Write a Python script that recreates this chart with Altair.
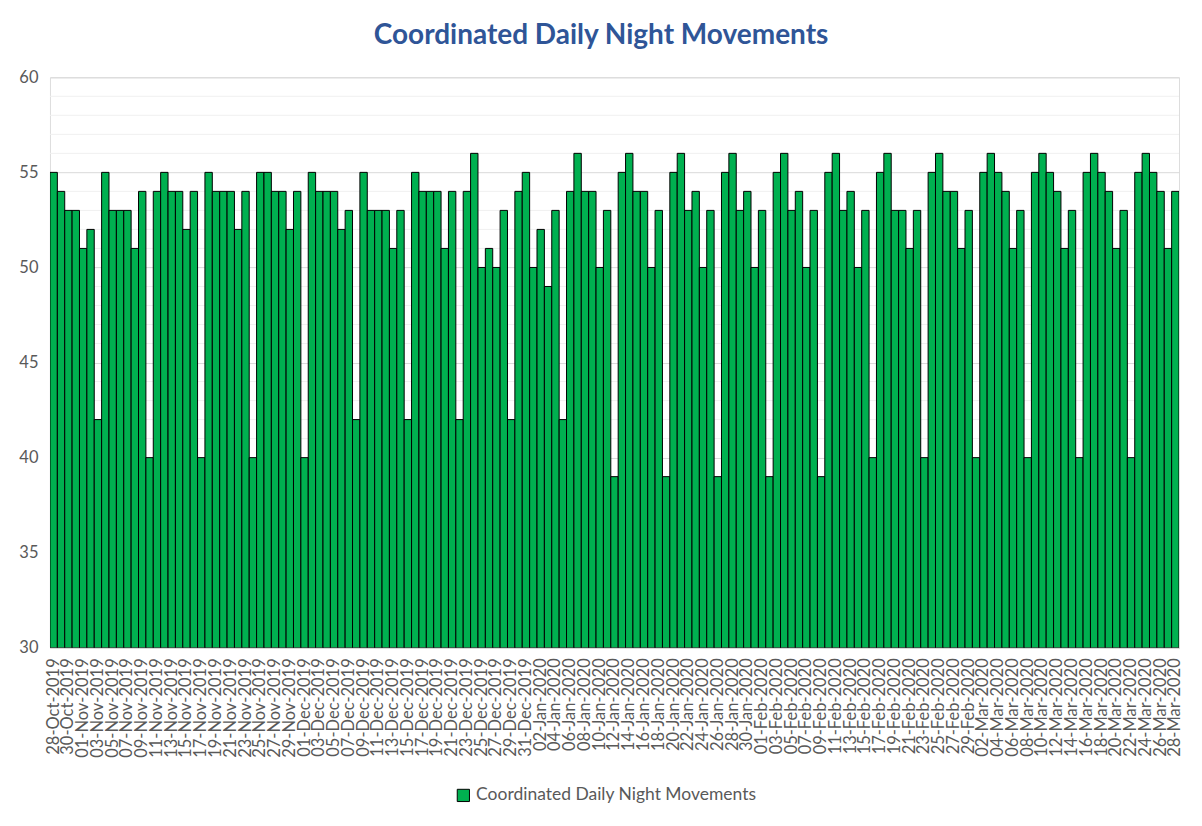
import datetime as dt
import altair as alt
import pandas as pd

# Daily values, 28-Oct-2019 .. 28-Mar-2020 (one row per week, Mon..Sun)
values = [
    55, 54, 53, 53, 51, 52, 42,
    55, 53, 53, 53, 51, 54, 40,
    54, 55, 54, 54, 52, 54, 40,
    55, 54, 54, 54, 52, 54, 40,
    55, 55, 54, 54, 52, 54, 40,
    55, 54, 54, 54, 52, 53, 42,
    55, 53, 53, 53, 51, 53, 42,
    55, 54, 54, 54, 51, 54, 42,
    54, 56, 50, 51, 50, 53, 42,
    54, 55, 50, 52, 49, 53, 42,
    54, 56, 54, 54, 50, 53, 39,
    55, 56, 54, 54, 50, 53, 39,
    55, 56, 53, 54, 50, 53, 39,
    55, 56, 53, 54, 50, 53, 39,
    55, 56, 53, 54, 50, 53, 39,
    55, 56, 53, 54, 50, 53, 40,
    55, 56, 53, 53, 51, 53, 40,
    55, 56, 54, 54, 51, 53, 40,
    55, 56, 55, 54, 51, 53, 40,
    55, 56, 55, 54, 51, 53, 40,
    55, 56, 55, 54, 51, 53, 40,
    55, 56, 55, 54, 51, 54,
]
start = dt.date(2019, 10, 28)
dates = [(start + dt.timedelta(days=i)).strftime("%d-%b-%Y") for i in range(len(values))]
label_dates = dates[::2]
y_ticks = [30, 35, 40, 45, 50, 55, 60]
minor_grid = [v for v in range(31, 60) if v % 5 != 0]
series_name = "Coordinated Daily Night Movements"

FONT = "Lato"
df = pd.DataFrame({"date": dates, "value": values, "series": series_name})
grid_df = pd.DataFrame({"g": minor_grid})

yscale = alt.Scale(domain=[30, 60], zero=False, nice=False)

minor = alt.Chart(grid_df).mark_rule(color="#f0f0f0", strokeWidth=1).encode(
    y=alt.Y("g:Q", scale=yscale)
)

bars = alt.Chart(df).mark_bar(stroke="black", strokeWidth=1, clip=True).encode(
    x=alt.X(
        "date:O",
        sort=None,
        scale=alt.Scale(paddingInner=0, paddingOuter=0),
        axis=alt.Axis(
            title=None,
            values=label_dates,
            labelAngle=270,
            labelFont=FONT,
            labelFontSize=16.5,
            labelColor="#595959",
            labelPadding=10,
            labelOverlap=False,
            ticks=False,
            domainColor="#d9d9d9",
            grid=False,
        ),
    ),
    y=alt.Y(
        "value:Q",
        scale=yscale,
        axis=alt.Axis(
            title=None,
            values=y_ticks,
            labelFont=FONT,
            labelFontSize=16.5,
            labelColor="#595959",
            labelPadding=12,
            ticks=False,
            domain=False,
            gridColor="#d9d9d9",
        ),
    ),
    y2=alt.datum(30),
    color=alt.Color(
        "series:N",
        scale=alt.Scale(range=["#00B050"]),
        legend=alt.Legend(
            title=None,
            orient="none",
            legendX=405,
            legendY=710,
            symbolType="square",
            symbolSize=150,
            symbolStrokeColor="black",
            symbolStrokeWidth=1,
            labelFont=FONT,
            labelFontSize=17.5,
            labelColor="#595959",
            labelLimit=0,
        ),
    ),
)

chart = (
    alt.layer(minor, bars)
    .properties(
        width=1130,
        height=571,
        padding={"left": 10, "top": 14, "right": 10, "bottom": 10},
        title=alt.Title(
            "Coordinated Daily Night Movements",
            font=FONT,
            fontSize=28,
            fontWeight="bold",
            color="#2F5597",
            anchor="middle",
            frame="bounds",
            offset=19,
        ),
    )
    .configure_view(stroke=None)
    .configure(background="white")
)

chart.save("out.html", embed_options={"renderer": "svg", "actions": False})
